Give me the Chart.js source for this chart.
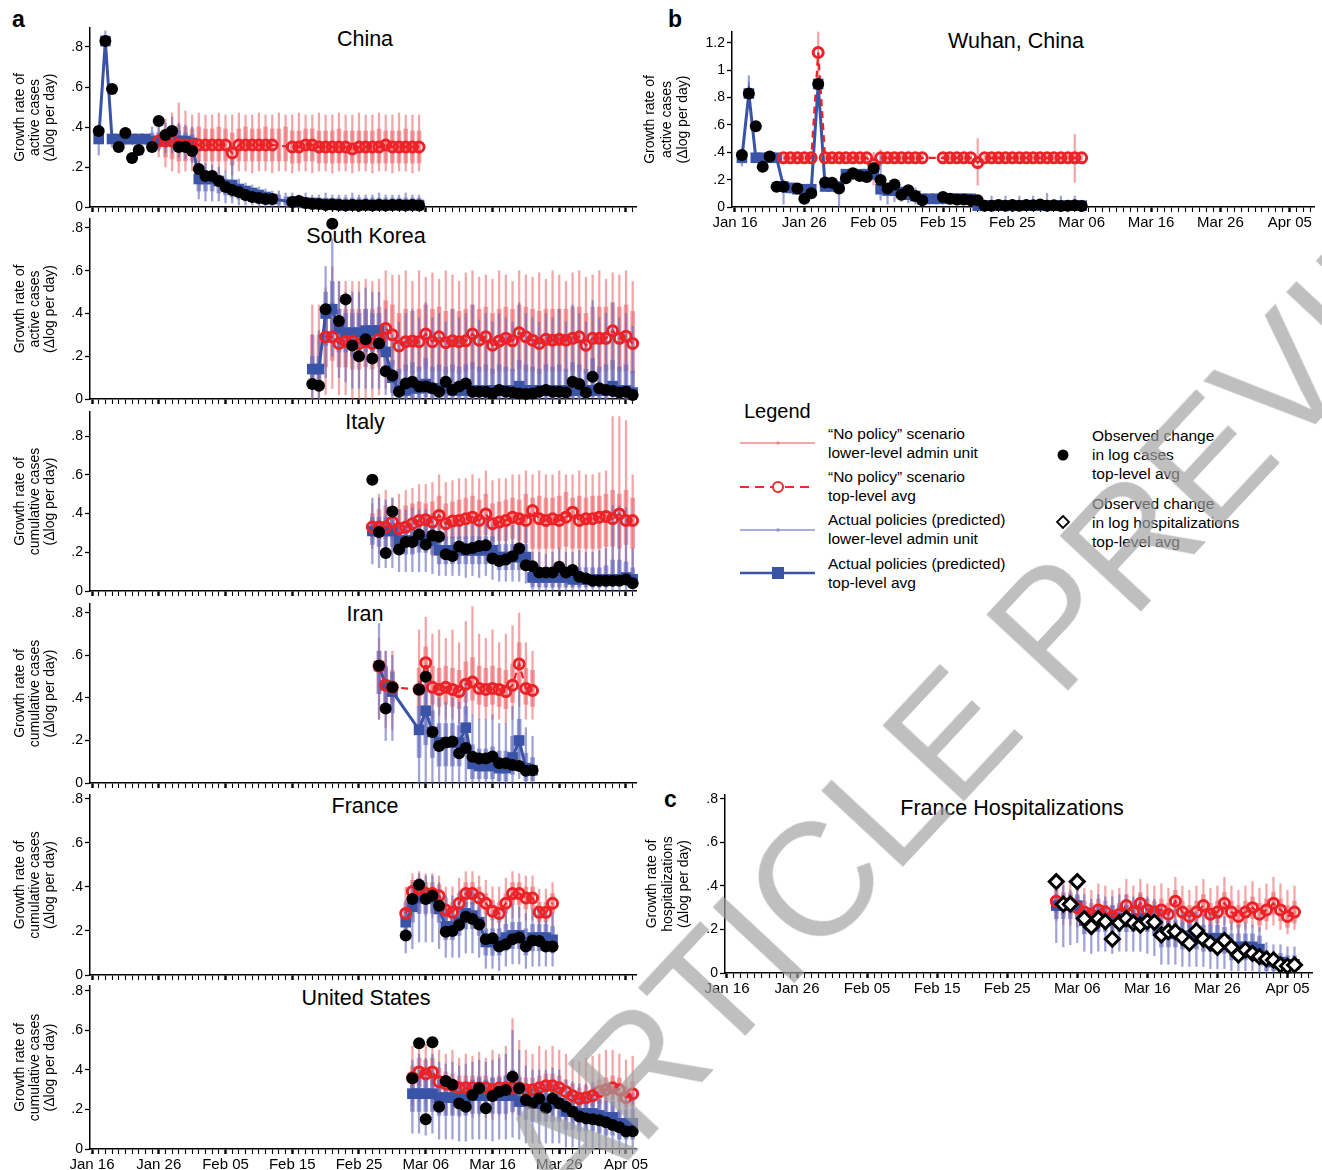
<!DOCTYPE html>
<html lang="en">
<head>
<meta charset="utf-8">
<title>Growth rates under policy scenarios</title>
<script src="https://cdn.jsdelivr.net/npm/chart.js@4.4.1/dist/chart.umd.min.js"></script>
<style>
  body { margin: 0; background: #fff; }
  #page { position: relative; width: 1322px; height: 1170px; overflow: hidden; background: #fff;
          font-family: 'Liberation Sans', Arial, Helvetica, sans-serif; color: #000; }
  .ptitle { position: absolute; font-size: 21.5px; white-space: nowrap; transform: translate(-50%, -50%); }
  .letter { position: absolute; font-size: 23px; font-weight: bold; line-height: 23px; }
  .leg { position: absolute; font-size: 15.5px; line-height: 19px; white-space: nowrap; }
  #wm { position: absolute; left: -302px; top: 1997px; height: 161px; font-size: 161px; line-height: 161px;
        white-space: nowrap; transform-origin: 0 50%; transform: rotate(-47deg);
        color: rgba(160,160,160,0.68); z-index: 5; pointer-events: none; }
</style>
</head>
<body>
<div id="page">
  <div class="letter" style="left:12px;top:8px">a</div>
  <div class="letter" style="left:668px;top:8px">b</div>
  <div class="letter" style="left:664px;top:788px">c</div>

  <div class="ptitle" style="left:365px;top:39px">China</div>
  <div class="ptitle" style="left:366px;top:236px">South Korea</div>
  <div class="ptitle" style="left:365px;top:422px">Italy</div>
  <div class="ptitle" style="left:365px;top:614px">Iran</div>
  <div class="ptitle" style="left:365px;top:806px">France</div>
  <div class="ptitle" style="left:366px;top:998px">United States</div>
  <div class="ptitle" style="left:1016px;top:41px">Wuhan, China</div>
  <div class="ptitle" style="left:1012px;top:808px">France Hospitalizations</div>

  <div class="leg" style="left:744px;top:399px;font-size:20px;line-height:24px">Legend</div>
  <div class="leg" style="left:828px;top:424px">“No policy” scenario<br>lower-level admin unit</div>
  <div class="leg" style="left:828px;top:467px">“No policy” scenario<br>top-level avg</div>
  <div class="leg" style="left:828px;top:510px">Actual policies (predicted)<br>lower-level admin unit</div>
  <div class="leg" style="left:828px;top:554px">Actual policies (predicted)<br>top-level avg</div>
  <div class="leg" style="left:1092px;top:426px">Observed change<br>in log cases<br>top-level avg</div>
  <div class="leg" style="left:1092px;top:494px">Observed change<br>in log hospitalizations<br>top-level avg</div>
  <svg style="position:absolute;left:0;top:0" width="1322" height="1170">
    <line x1="740" y1="443" x2="815" y2="443" stroke="#f08a8a" stroke-width="1.5"/>
    <circle cx="778" cy="443" r="1.8" fill="#f08a8a"/>
    <line x1="740" y1="487" x2="815" y2="487" stroke="#ee2a2a" stroke-width="2" stroke-dasharray="9,6"/>
    <circle cx="778" cy="487" r="5" fill="#fff" stroke="#ee2a2a" stroke-width="2"/>
    <line x1="740" y1="530" x2="815" y2="530" stroke="#8f93d2" stroke-width="1.5"/>
    <circle cx="778" cy="530" r="1.8" fill="#8f93d2"/>
    <line x1="740" y1="573" x2="815" y2="573" stroke="#3953a6" stroke-width="2.5"/>
    <rect x="772" y="567" width="12" height="12" fill="#3953a6"/>
    <circle cx="1063" cy="455" r="5.5" fill="#000"/>
    <path d="M1063 516 L1069 522 L1063 528 L1057 522 Z" fill="#fff" stroke="#000" stroke-width="1.8"/>
  </svg>

  <div id="wm">ACCELERATED ARTICLE PREVIEW</div>
</div>

<script>
// x axis: day 0 = Jan 16, one tick per day, label every 10 days
const tickLabels = ['Jan 16', 'Jan 26', 'Feb 05', 'Feb 15', 'Feb 25', 'Mar 06', 'Mar 16', 'Mar 26', 'Apr 05'];
const yTicksShort = [0, 0.2, 0.4, 0.6, 0.8];
const yTicksTall = [0, 0.2, 0.4, 0.6, 0.8, 1, 1.2];

// ---- China (first day = Jan 17) ----
const chinaStart = 1;
const chinaObs = [0.38,0.83,0.59,0.30,0.37,0.245,0.285,null,0.30,0.43,
  0.36,0.38,0.30,0.30,0.28,0.19,0.155,0.155,0.13,0.10,
  0.085,0.075,0.06,0.05,0.045,0.04,0.04,null,null,0.025,
  0.03,0.02,0.015,0.015,0.01,0.012,0.01,0.008,0.01,0.008,
  0.01,0.008,0.01,0.008,0.01,0.01,0.008,0.01,0.008];
const chinaNoPolicy = [null,null,null,null,null,null,null,null,null,0.33,
  0.33,0.33,0.31,0.31,0.31,0.31,0.31,0.31,0.31,0.31,
  0.27,0.31,0.31,0.31,0.31,0.31,0.31,null,null,0.30,
  0.30,0.31,0.31,0.30,0.30,0.30,0.30,0.30,0.29,0.30,
  0.30,0.30,0.30,0.31,0.30,0.30,0.30,0.30,0.30];
const chinaPolicy = [0.34,0.83,0.34,0.34,0.34,0.34,0.34,0.34,0.33,0.33,
  0.33,0.37,0.33,0.33,0.32,0.14,0.14,0.14,0.13,0.11,
  0.11,0.09,0.08,0.07,0.06,0.05,0.04,null,null,0.025,
  0.025,0.02,0.02,0.015,0.015,0.015,0.01,0.01,0.01,0.01,
  0.01,0.01,0.01,0.01,0.01,0.01,0.01,0.01,0.01];
const chinaNoPolicyRange = [null,null,null,null,null,null,null,null,null,[0.25,0.40],
  [0.20,0.44],[0.18,0.47],[0.17,0.52],[0.18,0.48],[0.18,0.46],[0.17,0.47],[0.18,0.46],[0.18,0.46],[0.17,0.47],[0.18,0.46],
  [0.16,0.46],[0.18,0.47],[0.18,0.46],[0.17,0.46],[0.18,0.47],[0.18,0.46],[0.17,0.46],[0.18,0.47],[0.18,0.46],[0.17,0.46],
  [0.18,0.47],[0.18,0.46],[0.17,0.46],[0.18,0.47],[0.18,0.46],[0.17,0.46],[0.18,0.47],[0.18,0.46],[0.17,0.46],[0.18,0.47],
  [0.18,0.46],[0.17,0.46],[0.18,0.47],[0.18,0.46],[0.17,0.46],[0.18,0.47],[0.18,0.46],[0.17,0.46],[0.18,0.46]];
const chinaNoPolicyCore = [null,null,null,null,null,null,null,null,null,[0.29,0.37],
  [0.25,0.39],[0.24,0.40],[0.23,0.41],[0.23,0.40],[0.23,0.39],[0.23,0.40],[0.23,0.39],[0.23,0.39],[0.23,0.40],[0.23,0.39],
  [0.21,0.37],[0.23,0.39],[0.23,0.40],[0.23,0.39],[0.23,0.39],[0.23,0.40],[0.23,0.39],[0.23,0.39],[0.23,0.40],[0.22,0.38],
  [0.22,0.38],[0.23,0.39],[0.23,0.39],[0.22,0.38],[0.22,0.38],[0.22,0.38],[0.22,0.39],[0.22,0.38],[0.22,0.38],[0.22,0.38],
  [0.22,0.38],[0.22,0.38],[0.22,0.39],[0.22,0.38],[0.22,0.38],[0.22,0.38],[0.22,0.39],[0.22,0.38],[0.22,0.38]];
const chinaPolicyRange = [[0.26,0.37],[0.78,0.88],[0.30,0.36],[0.31,0.36],[0.31,0.36],[0.31,0.36],[0.31,0.36],[0.31,0.36],[0.28,0.40],[0.28,0.40],
  [0.27,0.42],[0.27,0.45],[0.25,0.42],[0.24,0.41],[0.22,0.40],[0.04,0.23],[0.03,0.22],[0.03,0.21],[0.03,0.20],[0.02,0.18],
  [0.02,0.25],[0.01,0.14],[0.01,0.12],[0.01,0.11],[0.00,0.10],[0.00,0.09],[0.00,0.08],[0.00,0.08],[0.00,0.07],[0.00,0.07],
  [0.00,0.06],[0.00,0.07],[0.00,0.06],[0.00,0.06],[0.00,0.07],[0.00,0.06],[0.00,0.06],[0.00,0.06],[0.00,0.07],[0.00,0.06],
  [0.00,0.06],[0.00,0.06],[0.00,0.07],[0.00,0.06],[0.00,0.06],[0.00,0.06],[0.00,0.07],[0.00,0.06],[0.00,0.06]];
const chinaPolicyCore = [null,null,null,null,null,null,null,null,[0.30,0.37],[0.30,0.37],
  [0.30,0.38],[0.31,0.40],[0.29,0.38],[0.28,0.37],[0.27,0.36],[0.08,0.18],[0.08,0.17],[0.08,0.17],[0.07,0.16],[0.06,0.14],
  [0.05,0.13],[0.04,0.11],[0.03,0.10],[0.03,0.09],[0.02,0.08],[0.02,0.07],[0.01,0.06],[0.01,0.06],[0.01,0.05],[0.01,0.05],
  [0.01,0.045],[0.01,0.045],[0.01,0.045],[0.01,0.045],[0.01,0.045],[0.01,0.045],[0.01,0.045],[0.01,0.045],[0.01,0.045],[0.01,0.045],
  [0.01,0.045],[0.01,0.045],[0.01,0.045],[0.01,0.045],[0.01,0.045],[0.01,0.045],[0.01,0.045],[0.01,0.045],[0.01,0.045]];

// ---- South Korea (first day = Feb 18) ----
const koreaStart = 33;
const koreaObs = [0.07,0.062,0.42,0.82,0.365,0.466,0.25,0.20,0.28,0.19,
  0.26,0.13,0.11,
  0.034,0.073,0.081,0.058,0.058,0.05,0.034,0.081,0.042,0.058,0.073,0.034,0.034,0.034,0.026,0.042,0.034,0.03,
  0.026,0.023,0.026,0.034,0.042,0.034,0.034,0.03,0.081,0.07,0.03,0.104,0.05,0.042,0.038,0.03,0.034,0.019];
const koreaNoPolicy = [null,null,0.29,0.29,0.26,0.27,0.27,0.26,0.27,0.26,0.28,0.33,0.30,
  0.248,0.268,0.271,0.268,0.304,0.268,0.291,0.263,0.272,0.268,0.272,0.304,0.275,0.291,0.252,0.271,0.284,0.272,
  0.31,0.291,0.275,0.26,0.279,0.275,0.279,0.275,0.284,0.291,0.252,0.284,0.284,0.284,0.319,0.284,0.294,0.26];
const koreaPolicy = [0.14,0.14,0.40,0.42,0.33,0.31,0.31,0.31,0.32,0.32,0.32,0.22,0.10,
  0.04,0.04,0.05,0.05,0.07,0.05,0.05,0.05,0.04,0.04,0.04,0.04,0.04,0.04,0.04,0.04,0.04,0.04,
  0.06,0.04,0.04,0.04,0.04,0.04,0.04,0.04,0.04,0.04,0.04,0.04,0.04,0.04,0.06,0.04,0.04,0.03];
const koreaNoPolicyRange = [[0.00,0.44],[0.00,0.44],[0.02,0.52],[0.05,0.62],[0.02,0.55],[0.02,0.55],[0.00,0.55],[0.00,0.55],[0.00,0.56],[0.00,0.55],[0.02,0.56],[0.05,0.60],[0.02,0.58],
  [0.01,0.58],[0.02,0.60],[0.01,0.55],[0.02,0.60],[0.00,0.57],[0.02,0.59],[0.01,0.56],[0.00,0.60],[0.02,0.58],[0.01,0.55],[0.02,0.59],[0.00,0.60],
  [0.01,0.57],[0.02,0.58],[0.00,0.56],[0.02,0.60],[0.01,0.58],[0.00,0.55],[0.02,0.60],[0.01,0.58],[0.02,0.57],[0.00,0.59],[0.01,0.56],[0.02,0.60],
  [0.00,0.58],[0.02,0.55],[0.01,0.59],[0.00,0.60],[0.02,0.57],[0.01,0.58],[0.02,0.60],[0.00,0.56],[0.01,0.59],[0.02,0.58],[0.00,0.60],[0.01,0.55]];
const koreaNoPolicyCore = [[0.05,0.30],[0.05,0.30],[0.15,0.42],[0.18,0.45],[0.15,0.42],[0.15,0.42],[0.14,0.42],[0.14,0.42],[0.15,0.42],[0.14,0.42],[0.15,0.43],[0.18,0.46],[0.16,0.44],
  [0.12,0.40],[0.13,0.42],[0.12,0.41],[0.13,0.42],[0.14,0.44],[0.13,0.42],[0.13,0.43],[0.12,0.41],[0.13,0.42],[0.12,0.41],[0.13,0.42],[0.14,0.44],
  [0.13,0.42],[0.13,0.43],[0.12,0.40],[0.13,0.42],[0.13,0.43],[0.13,0.42],[0.14,0.44],[0.13,0.43],[0.13,0.42],[0.12,0.41],[0.13,0.42],[0.13,0.42],
  [0.13,0.42],[0.13,0.42],[0.13,0.43],[0.13,0.43],[0.12,0.40],[0.13,0.43],[0.13,0.43],[0.13,0.43],[0.14,0.45],[0.13,0.43],[0.13,0.44],[0.12,0.41]];
const koreaPolicyRange = [[0.00,0.30],[0.00,0.32],[0.10,0.62],[0.20,0.75],[0.10,0.55],[0.08,0.50],[0.05,0.50],[0.05,0.50],[0.05,0.52],[0.05,0.50],[0.05,0.50],[0.02,0.42],[0.00,0.30],
  [0.00,0.36],[0.00,0.40],[0.00,0.42],[0.00,0.38],[0.00,0.45],[0.00,0.38],[0.00,0.40],[0.00,0.36],[0.00,0.42],[0.00,0.38],[0.00,0.40],[0.00,0.44],
  [0.00,0.37],[0.00,0.40],[0.00,0.36],[0.00,0.40],[0.00,0.38],[0.00,0.36],[0.00,0.45],[0.00,0.40],[0.00,0.38],[0.00,0.36],[0.00,0.40],[0.00,0.38],
  [0.00,0.42],[0.00,0.36],[0.00,0.44],[0.00,0.40],[0.00,0.36],[0.00,0.46],[0.00,0.38],[0.00,0.40],[0.00,0.45],[0.00,0.38],[0.00,0.40],[0.00,0.34]];
const koreaPolicyCore = [[0.08,0.20],[0.08,0.20],[0.25,0.50],[0.28,0.55],[0.22,0.42],[0.22,0.40],[0.20,0.40],[0.20,0.40],[0.22,0.42],[0.22,0.40],[0.22,0.40],[0.12,0.30],[0.03,0.18],
  [0.00,0.14],[0.00,0.16],[0.00,0.17],[0.00,0.15],[0.01,0.19],[0.00,0.15],[0.00,0.16],[0.00,0.15],[0.00,0.16],[0.00,0.15],[0.00,0.16],[0.00,0.17],
  [0.00,0.15],[0.00,0.16],[0.00,0.14],[0.00,0.16],[0.00,0.15],[0.00,0.14],[0.01,0.18],[0.00,0.16],[0.00,0.15],[0.00,0.14],[0.00,0.16],[0.00,0.15],
  [0.00,0.16],[0.00,0.14],[0.00,0.17],[0.00,0.16],[0.00,0.14],[0.01,0.19],[0.00,0.15],[0.00,0.16],[0.01,0.18],[0.00,0.15],[0.00,0.16],[0.00,0.13]];

// ---- Italy (first day = Feb 27) ----
const italyStart = 42;
const italyObs = [0.574,0.304,0.196,0.41,0.214,0.253,0.253,0.292,0.24,0.287,
  0.28,0.19,0.18,0.23,0.215,0.222,0.232,0.236,0.168,0.155,
  0.162,0.18,0.219,0.133,0.128,0.096,0.096,0.096,0.125,0.096,
  0.108,0.073,0.065,0.053,0.053,0.053,0.053,0.053,0.06,0.04];
const italyNoPolicy = [0.33,0.33,0.33,0.356,0.322,0.33,0.347,0.364,0.368,0.356,
  0.39,0.347,0.361,0.364,0.373,0.381,0.364,0.398,0.347,0.356,
  0.364,0.381,0.373,0.364,0.415,0.373,0.364,0.373,0.364,0.381,
  0.407,0.364,0.373,0.373,0.381,0.385,0.373,0.398,0.364,0.364];
const italyPolicy = [0.31,0.31,0.31,0.31,0.26,0.26,0.26,0.26,0.26,0.26,
  0.21,0.21,0.21,0.21,0.21,0.21,0.21,0.21,0.21,0.175,
  0.175,0.175,0.175,0.175,0.07,0.07,0.07,0.07,0.07,0.07,
  0.06,0.06,0.06,0.06,0.06,0.06,0.06,0.06,0.07,0.06];
const italyNoPolicyRange = [[0.22,0.45],[0.20,0.50],[0.20,0.52],[0.20,0.48],[0.20,0.50],[0.22,0.52],[0.20,0.53],[0.22,0.55],[0.20,0.55],[0.18,0.56],
  [0.20,0.60],[0.18,0.56],[0.18,0.57],[0.18,0.58],[0.17,0.58],[0.18,0.60],[0.17,0.58],[0.18,0.62],[0.16,0.57],[0.16,0.58],
  [0.15,0.58],[0.15,0.60],[0.14,0.60],[0.10,0.62],[0.03,0.60],[0.02,0.62],[0.02,0.60],[0.02,0.60],[0.01,0.62],[0.02,0.60],
  [0.02,0.60],[0.02,0.62],[0.02,0.60],[0.02,0.60],[0.02,0.61],[0.02,0.62],[0.05,0.90],[0.05,0.90],[0.05,0.88],[0.05,0.60]];
const italyNoPolicyCore = [[0.28,0.40],[0.27,0.42],[0.27,0.44],[0.27,0.43],[0.26,0.42],[0.27,0.44],[0.28,0.45],[0.29,0.46],[0.28,0.45],[0.27,0.46],
  [0.29,0.49],[0.26,0.45],[0.27,0.46],[0.27,0.47],[0.27,0.48],[0.28,0.49],[0.27,0.47],[0.29,0.50],[0.26,0.45],[0.26,0.46],
  [0.26,0.47],[0.27,0.48],[0.26,0.47],[0.25,0.50],[0.22,0.48],[0.22,0.49],[0.22,0.48],[0.22,0.48],[0.22,0.49],[0.23,0.51],
  [0.22,0.48],[0.22,0.49],[0.22,0.48],[0.22,0.49],[0.22,0.49],[0.23,0.50],[0.23,0.52],[0.22,0.50],[0.24,0.52],[0.22,0.48]];
const italyPolicyRange = [[0.14,0.48],[0.12,0.48],[0.12,0.47],[0.12,0.48],[0.10,0.42],[0.10,0.42],[0.10,0.43],[0.10,0.42],[0.10,0.42],[0.09,0.40],
  [0.08,0.36],[0.08,0.36],[0.08,0.35],[0.08,0.36],[0.07,0.35],[0.08,0.36],[0.07,0.36],[0.08,0.37],[0.06,0.34],[0.05,0.33],
  [0.05,0.33],[0.05,0.34],[0.05,0.35],[0.04,0.33],[0.00,0.20],[0.00,0.20],[0.00,0.19],[0.00,0.20],[0.00,0.22],[0.00,0.20],
  [0.00,0.20],[0.00,0.21],[0.00,0.20],[0.00,0.20],[0.00,0.21],[0.00,0.22],[0.00,0.44],[0.00,0.44],[0.00,0.43],[0.00,0.22]];
const italyPolicyCore = [[0.24,0.38],[0.23,0.38],[0.23,0.38],[0.23,0.38],[0.19,0.33],[0.19,0.33],[0.19,0.33],[0.20,0.34],[0.20,0.34],[0.19,0.33],
  [0.14,0.28],[0.14,0.28],[0.14,0.28],[0.14,0.28],[0.14,0.28],[0.14,0.28],[0.14,0.28],[0.14,0.28],[0.14,0.28],[0.11,0.24],
  [0.11,0.24],[0.11,0.24],[0.11,0.25],[0.11,0.24],[0.02,0.12],[0.02,0.12],[0.02,0.12],[0.02,0.12],[0.02,0.13],[0.02,0.12],
  [0.02,0.12],[0.02,0.12],[0.02,0.12],[0.02,0.12],[0.02,0.12],[0.02,0.13],[0.03,0.16],[0.03,0.16],[0.03,0.15],[0.02,0.12]];

// ---- Iran (first day = Feb 28) ----
const iranStart = 43;
const iranObs = [0.552,0.35,0.45,null,null,null,0.44,0.50,0.24,0.174,
  0.19,0.195,0.14,0.165,0.124,0.115,0.115,0.125,0.093,0.093,
  0.085,0.08,0.058,0.06];
const iranNoPolicy = [0.55,0.46,0.45,null,null,null,0.44,0.566,0.45,0.44,
  0.45,0.44,0.43,0.465,0.475,0.445,0.44,0.445,0.44,0.43,
  0.46,0.56,0.445,0.435];
const iranPolicy = [0.55,0.46,0.43,null,null,null,0.25,0.34,0.24,0.19,
  0.19,0.19,0.19,0.26,0.09,0.08,0.08,0.08,0.07,0.07,
  0.12,0.20,0.07,0.06];
const iranNoPolicyRange = [[0.30,0.68],[0.26,0.62],[0.25,0.62],null,null,null,[0.28,0.72],[0.30,0.78],[0.30,0.70],[0.32,0.72],
  [0.30,0.68],[0.30,0.72],[0.28,0.66],[0.32,0.76],[0.32,0.83],[0.30,0.70],[0.30,0.68],[0.30,0.72],[0.30,0.66],[0.28,0.70],
  [0.30,0.74],[0.36,0.80],[0.30,0.66],[0.30,0.62]];
const iranNoPolicyCore = [[0.42,0.62],[0.38,0.54],[0.38,0.53],null,null,null,[0.36,0.54],[0.44,0.64],[0.37,0.55],[0.36,0.54],
  [0.37,0.55],[0.36,0.54],[0.35,0.53],[0.38,0.57],[0.39,0.59],[0.37,0.55],[0.36,0.54],[0.37,0.55],[0.36,0.54],[0.35,0.53],
  [0.38,0.56],[0.44,0.66],[0.37,0.54],[0.36,0.53]];
const iranPolicyRange = [[0.30,0.75],[0.20,0.62],[0.20,0.60],null,null,null,[0.00,0.48],[0.00,0.52],[0.00,0.42],[0.00,0.40],
  [0.00,0.38],[0.00,0.40],[0.00,0.38],[0.00,0.48],[0.00,0.32],[0.00,0.30],[0.00,0.30],[0.00,0.32],[0.00,0.28],[0.00,0.28],
  [0.00,0.36],[0.02,0.46],[0.00,0.26],[0.00,0.22]];
const iranPolicyCore = [[0.42,0.62],[0.35,0.55],[0.33,0.52],null,null,null,[0.12,0.36],[0.18,0.44],[0.12,0.34],[0.08,0.28],
  [0.08,0.28],[0.08,0.28],[0.08,0.27],[0.14,0.36],[0.02,0.18],[0.02,0.16],[0.02,0.16],[0.02,0.17],[0.01,0.15],[0.01,0.15],
  [0.04,0.22],[0.10,0.30],[0.01,0.14],[0.01,0.12]];

// ---- France (first day = Mar 03) ----
const franceStart = 47;
const franceObs = [0.18,0.345,0.41,0.345,0.36,0.315,0.197,0.20,0.227,0.265,
  0.255,0.23,0.162,0.167,0.129,0.14,0.162,0.17,0.13,0.157,
  0.154,0.13,0.13];
const franceNoPolicy = [0.28,0.38,0.39,0.37,0.37,0.36,0.295,0.285,0.326,0.37,
  0.37,0.35,0.326,0.29,0.28,0.326,0.37,0.37,0.35,0.35,
  0.285,0.285,0.326];
const francePolicy = [0.24,0.31,0.35,0.35,0.35,0.30,0.22,0.22,0.24,0.28,
  0.27,0.24,0.15,0.15,0.15,0.17,0.18,0.18,0.15,0.17,
  0.17,0.17,0.16];
const franceNoPolicyRange = [[0.20,0.40],[0.26,0.46],[0.28,0.47],[0.27,0.46],[0.26,0.46],[0.26,0.45],[0.20,0.40],[0.20,0.40],[0.22,0.44],[0.26,0.47],
  [0.26,0.47],[0.25,0.45],[0.22,0.43],[0.20,0.40],[0.20,0.40],[0.22,0.44],[0.26,0.47],[0.26,0.46],[0.25,0.45],[0.25,0.45],
  [0.20,0.39],[0.20,0.39],[0.22,0.42]];
const franceNoPolicyCore = [[0.24,0.33],[0.33,0.43],[0.34,0.44],[0.32,0.42],[0.32,0.42],[0.31,0.41],[0.25,0.35],[0.24,0.33],[0.28,0.37],[0.32,0.42],
  [0.32,0.42],[0.30,0.40],[0.28,0.37],[0.25,0.34],[0.24,0.33],[0.28,0.37],[0.32,0.42],[0.32,0.42],[0.30,0.40],[0.30,0.40],
  [0.24,0.33],[0.24,0.33],[0.28,0.37]];
const francePolicyRange = [[0.10,0.34],[0.12,0.42],[0.15,0.46],[0.15,0.45],[0.15,0.45],[0.12,0.42],[0.08,0.36],[0.08,0.36],[0.08,0.38],[0.10,0.40],
  [0.10,0.40],[0.08,0.37],[0.03,0.28],[0.03,0.28],[0.02,0.27],[0.04,0.30],[0.05,0.32],[0.05,0.31],[0.03,0.28],[0.04,0.30],
  [0.04,0.30],[0.04,0.29],[0.04,0.28]];
const francePolicyCore = [[0.18,0.30],[0.24,0.37],[0.28,0.40],[0.28,0.40],[0.28,0.40],[0.24,0.36],[0.16,0.28],[0.16,0.28],[0.18,0.30],[0.21,0.33],
  [0.21,0.33],[0.18,0.30],[0.09,0.21],[0.09,0.21],[0.09,0.21],[0.11,0.23],[0.12,0.24],[0.12,0.24],[0.09,0.21],[0.11,0.23],
  [0.11,0.23],[0.11,0.23],[0.10,0.22]];

// ---- United States (first day = Mar 04) ----
const usStart = 48;
const usObs = [0.358,0.535,0.15,0.54,0.214,0.344,0.325,0.23,0.214,0.273,
  0.307,0.206,0.268,0.29,0.298,0.366,0.307,0.248,0.231,0.256,
  0.206,0.256,0.231,0.214,0.189,0.164,0.155,0.15,0.145,0.135,
  0.122,0.11,0.088,0.09];
const usNoPolicy = [0.36,0.39,0.38,0.39,0.34,0.33,0.32,0.31,0.31,0.31,
  0.31,0.31,0.30,0.31,0.31,0.31,0.31,0.30,0.30,0.31,
  0.32,0.32,0.31,0.29,0.27,0.255,0.26,0.27,0.29,0.30,
  0.31,0.30,0.26,0.28];
const usPolicy = [0.28,0.28,0.28,0.28,0.26,0.26,0.26,0.26,0.26,0.27,
  0.27,0.27,0.27,0.27,0.27,0.27,0.24,0.24,0.23,0.23,
  0.23,0.23,0.23,0.19,0.19,0.18,0.18,0.18,0.17,0.16,
  0.16,0.13,0.13,0.13];
const usNoPolicyRange = [[0.22,0.52],[0.24,0.55],[0.22,0.53],[0.24,0.55],[0.20,0.50],[0.18,0.48],[0.18,0.50],[0.16,0.46],[0.18,0.48],[0.16,0.47],
  [0.17,0.49],[0.16,0.46],[0.15,0.50],[0.17,0.48],[0.15,0.52],[0.18,0.66],[0.16,0.55],[0.15,0.50],[0.16,0.48],[0.17,0.52],
  [0.18,0.50],[0.17,0.52],[0.17,0.50],[0.15,0.48],[0.14,0.45],[0.13,0.44],[0.14,0.46],[0.15,0.47],[0.16,0.48],[0.17,0.50],
  [0.17,0.50],[0.16,0.48],[0.14,0.45],[0.15,0.47]];
const usNoPolicyCore = [[0.30,0.42],[0.32,0.46],[0.31,0.45],[0.32,0.46],[0.28,0.41],[0.27,0.39],[0.26,0.38],[0.25,0.37],[0.25,0.37],[0.25,0.37],
  [0.25,0.37],[0.25,0.37],[0.24,0.36],[0.25,0.37],[0.25,0.37],[0.25,0.38],[0.25,0.37],[0.24,0.36],[0.24,0.36],[0.25,0.37],
  [0.26,0.38],[0.26,0.38],[0.25,0.37],[0.23,0.35],[0.21,0.33],[0.20,0.31],[0.21,0.32],[0.22,0.33],[0.23,0.35],[0.24,0.36],
  [0.25,0.37],[0.24,0.36],[0.21,0.32],[0.22,0.34]];
const usPolicyRange = [[0.08,0.45],[0.08,0.48],[0.07,0.46],[0.08,0.48],[0.05,0.44],[0.05,0.43],[0.05,0.44],[0.04,0.42],[0.04,0.43],[0.05,0.44],
  [0.05,0.45],[0.05,0.44],[0.04,0.45],[0.05,0.46],[0.05,0.48],[0.06,0.60],[0.05,0.50],[0.03,0.42],[0.03,0.40],[0.03,0.40],
  [0.03,0.40],[0.03,0.41],[0.03,0.40],[0.01,0.35],[0.01,0.34],[0.00,0.33],[0.00,0.33],[0.00,0.34],[0.00,0.32],[0.00,0.31],
  [0.00,0.30],[0.00,0.27],[0.00,0.26],[0.00,0.27]];
const usPolicyCore = [[0.19,0.36],[0.19,0.37],[0.19,0.36],[0.19,0.37],[0.17,0.35],[0.17,0.34],[0.17,0.35],[0.17,0.34],[0.17,0.34],[0.18,0.35],
  [0.18,0.36],[0.18,0.35],[0.18,0.36],[0.18,0.36],[0.18,0.37],[0.19,0.40],[0.17,0.36],[0.15,0.32],[0.14,0.31],[0.14,0.31],
  [0.14,0.31],[0.14,0.31],[0.14,0.31],[0.10,0.27],[0.10,0.27],[0.09,0.26],[0.09,0.26],[0.09,0.26],[0.08,0.25],[0.07,0.24],
  [0.07,0.24],[0.05,0.20],[0.05,0.20],[0.05,0.20]];

// ---- Wuhan (first day = Jan 17) ----
const wuhanStart = 1;
const wuhanObs = [0.38,0.83,0.59,0.295,0.37,0.148,0.148,null,0.135,0.06,
  0.10,0.90,0.18,0.177,0.135,0.21,0.246,0.226,0.22,0.283,
  0.197,0.135,0.165,0.09,0.123,0.08,0.05,null,null,0.074,
  0.06,0.054,0.054,0.05,0.05,0.01,0.01,0.015,0.01,0.015,
  0.01,0.015,0.012,0.018,0.01,0.012,0.008,0.01,0.012,0.008];
const wuhanNoPolicy = [null,null,null,null,null,null,0.36,0.36,0.36,0.36,
  0.36,1.13,0.36,0.36,0.36,0.36,0.36,0.36,0.36,0.31,
  0.36,0.36,0.36,0.36,0.36,0.36,0.36,null,null,0.36,
  0.36,0.36,0.36,0.36,0.325,0.36,0.36,0.36,0.36,0.36,
  0.36,0.36,0.36,0.36,0.36,0.36,0.36,0.36,0.36,0.36];
const wuhanPolicy = [0.36,0.83,0.36,0.36,0.36,0.36,0.15,0.14,0.13,0.13,
  0.13,0.90,0.15,0.15,0.15,0.24,0.24,0.24,0.24,0.24,
  0.13,0.12,0.12,0.11,0.09,0.08,0.06,0.06,0.06,0.06,
  0.06,0.06,0.06,0.06,0.01,0.01,0.01,0.01,0.01,0.01,
  0.01,0.01,0.01,0.01,0.01,0.01,0.01,0.01,0.01,0.01];
const wuhanNoPolicyRange = [null,null,null,null,null,null,[0.34,0.38],[0.34,0.38],[0.34,0.38],[0.34,0.38],
  [0.34,0.38],[0.90,1.28],[0.34,0.38],[0.34,0.38],[0.34,0.38],[0.34,0.38],[0.34,0.38],[0.34,0.38],[0.34,0.38],[0.16,0.40],
  [0.30,0.42],[0.34,0.38],[0.34,0.38],[0.34,0.38],[0.34,0.38],[0.34,0.38],[0.34,0.38],null,null,[0.34,0.38],
  [0.34,0.38],[0.34,0.38],[0.34,0.38],[0.34,0.38],[0.16,0.50],[0.34,0.38],[0.34,0.38],[0.34,0.38],[0.34,0.38],[0.34,0.38],
  [0.34,0.38],[0.34,0.38],[0.34,0.38],[0.34,0.38],[0.34,0.38],[0.34,0.38],[0.34,0.38],[0.34,0.38],[0.18,0.53],[0.34,0.38]];
const wuhanPolicyRange = [[0.30,0.40],[0.76,0.96],[0.33,0.39],[0.33,0.39],[0.33,0.39],[0.33,0.39],[0.02,0.20],[0.10,0.17],[0.10,0.16],[0.10,0.16],
  [0.10,0.16],[0.75,0.95],[0.12,0.18],[0.12,0.18],[0.00,0.16],[0.20,0.27],[0.20,0.27],[0.20,0.27],[0.20,0.27],[0.20,0.27],
  [0.05,0.40],[0.02,0.16],[0.04,0.15],[0.04,0.14],[0.03,0.12],[0.02,0.14],[0.02,0.09],[0.02,0.09],[0.02,0.09],[0.02,0.09],
  [0.02,0.09],[0.02,0.09],[0.02,0.09],[0.02,0.09],[0.00,0.08],[0.00,0.05],[0.00,0.08],[0.00,0.05],[0.00,0.08],[0.00,0.05],
  [0.00,0.08],[0.00,0.05],[0.00,0.08],[0.00,0.05],[0.00,0.10],[0.00,0.05],[0.00,0.08],[0.00,0.05],[0.00,0.08],[0.00,0.05]];

// ---- France hospitalizations (first day = Mar 03) ----
const hospStart = 47;
const hospObs = [0.42,0.316,0.316,0.42,0.25,0.213,0.25,0.236,0.156,0.23,
  0.25,0.23,0.22,0.236,0.233,0.175,0.19,0.19,0.164,0.137,
  0.194,0.156,0.137,0.118,0.15,0.118,0.083,0.106,0.09,0.075,
  0.065,0.06,0.037,0.032,0.037];
const hospNoPolicy = [0.33,0.32,0.32,0.30,0.28,0.27,0.29,0.28,0.26,0.27,
  0.31,0.28,0.32,0.29,0.28,0.29,0.27,0.33,0.28,0.26,
  0.28,0.31,0.27,0.28,0.32,0.28,0.26,0.28,0.30,0.27,
  0.29,0.32,0.29,0.26,0.28];
const hospPolicy = [0.31,0.31,0.31,0.31,0.24,0.24,0.25,0.25,0.25,0.25,
  0.25,0.25,0.25,0.25,0.24,0.18,0.18,0.18,0.17,0.17,
  0.17,0.16,0.16,0.16,0.15,0.12,0.12,0.12,0.12,0.11,
  0.06,0.05,0.05,0.04,0.04];
const hospNoPolicyRange = [[0.24,0.42],[0.22,0.42],[0.22,0.41],[0.21,0.40],[0.20,0.39],[0.19,0.38],[0.20,0.41],[0.20,0.40],[0.18,0.38],[0.19,0.39],
  [0.21,0.43],[0.20,0.40],[0.22,0.43],[0.20,0.41],[0.19,0.40],[0.20,0.41],[0.19,0.39],[0.22,0.44],[0.20,0.40],[0.18,0.38],
  [0.20,0.40],[0.21,0.43],[0.19,0.39],[0.20,0.40],[0.22,0.44],[0.20,0.40],[0.18,0.38],[0.20,0.40],[0.21,0.42],[0.19,0.39],
  [0.20,0.41],[0.22,0.44],[0.20,0.41],[0.18,0.38],[0.20,0.40]];
const hospNoPolicyCore = [[0.28,0.38],[0.27,0.37],[0.27,0.37],[0.25,0.35],[0.23,0.33],[0.22,0.32],[0.24,0.34],[0.23,0.33],[0.21,0.31],[0.22,0.32],
  [0.26,0.36],[0.23,0.33],[0.27,0.37],[0.24,0.34],[0.23,0.33],[0.24,0.34],[0.22,0.32],[0.28,0.38],[0.23,0.33],[0.21,0.31],
  [0.23,0.33],[0.26,0.36],[0.22,0.32],[0.23,0.33],[0.27,0.37],[0.23,0.33],[0.21,0.31],[0.23,0.33],[0.25,0.35],[0.22,0.32],
  [0.24,0.34],[0.27,0.37],[0.24,0.34],[0.21,0.31],[0.23,0.33]];
const hospPolicyRange = [[0.14,0.40],[0.12,0.40],[0.13,0.38],[0.14,0.40],[0.10,0.36],[0.09,0.34],[0.10,0.36],[0.10,0.35],[0.09,0.35],[0.10,0.36],
  [0.10,0.36],[0.10,0.35],[0.10,0.36],[0.09,0.35],[0.08,0.34],[0.04,0.30],[0.04,0.29],[0.04,0.30],[0.03,0.28],[0.03,0.28],
  [0.03,0.28],[0.03,0.27],[0.02,0.27],[0.02,0.27],[0.02,0.26],[0.01,0.23],[0.01,0.22],[0.01,0.23],[0.01,0.22],[0.00,0.21],
  [0.00,0.14],[0.00,0.13],[0.00,0.13],[0.00,0.12],[0.00,0.12]];
const hospPolicyCore = [[0.25,0.36],[0.25,0.36],[0.25,0.36],[0.25,0.36],[0.18,0.30],[0.18,0.30],[0.19,0.31],[0.19,0.31],[0.19,0.31],[0.19,0.31],
  [0.19,0.31],[0.19,0.31],[0.19,0.31],[0.19,0.31],[0.18,0.30],[0.12,0.24],[0.12,0.24],[0.12,0.24],[0.11,0.23],[0.11,0.23],
  [0.11,0.23],[0.10,0.22],[0.10,0.22],[0.10,0.22],[0.09,0.21],[0.06,0.18],[0.06,0.18],[0.06,0.18],[0.06,0.18],[0.05,0.17],
  [0.01,0.10],[0.01,0.09],[0.01,0.09],[0.00,0.08],[0.00,0.08]];

// ---- drawing ----
const FONT = "'Liberation Sans', Arial, Helvetica, sans-serif";
const RED = '#ec2227';
const BLUE = '#3953a6';
const RED_LOW = 'rgba(238,105,110,0.6)';
const BLUE_LOW = 'rgba(100,106,190,0.62)';

function toPoints(start, values) {
  return values.map((v, i) => ({ x: start + i, y: v }));
}

function toRanges(start, pairs) {
  const out = [];
  (pairs || []).forEach((p, i) => { if (p) out.push({ x: start + i, y: p }); });
  return out;
}

function yLabel(v) {
  if (v === 0) return '0';
  return String(Math.round(v * 10) / 10).replace(/^0/, '');
}

function buildPanel(p) {
  const page = document.getElementById('page');
  const canvas = document.createElement('canvas');
  canvas.width = p.w;
  canvas.height = p.h;
  canvas.style.cssText = `position:absolute;left:${p.left}px;top:${p.top}px;width:${p.w}px;height:${p.h}px;`;
  page.appendChild(canvas);

  const lastTick = Math.floor(p.xMax);
  const dayTicks = Array.from({ length: lastTick + 1 }, (_, i) => i);
  const noPad = (ax) => { ax.paddingTop = 0; ax.paddingBottom = 0; ax.paddingLeft = 0; ax.paddingRight = 0; };

  new Chart(canvas, {
    type: 'bar',
    data: {
      datasets: [
        { type: 'line', data: toPoints(p.start, p.obs), showLine: false,
          pointStyle: p.diamonds ? 'rectRot' : 'circle', pointRadius: p.diamonds ? 7 : 6,
          pointBackgroundColor: p.diamonds ? '#fff' : '#000', pointBorderColor: '#000',
          pointBorderWidth: p.diamonds ? 3 : 0, order: 0, clip: false },
        { type: 'line', data: toPoints(p.start, p.noPolicy), borderColor: RED, borderWidth: 2.2,
          borderDash: [7, 5], pointStyle: 'circle', pointRadius: 5, pointBackgroundColor: 'rgba(255,255,255,0)',
          pointBorderColor: RED, pointBorderWidth: 3, spanGaps: true, tension: 0, order: 1, clip: false },
        { type: 'line', data: toPoints(p.start, p.policy), borderColor: BLUE, borderWidth: 3,
          pointStyle: 'rect', pointRadius: 7.5, pointBackgroundColor: BLUE, pointBorderWidth: 0,
          spanGaps: true, tension: 0, order: 2, clip: false },
        { type: 'bar', data: toRanges(p.start, p.policyCore), backgroundColor: BLUE_LOW,
          barThickness: 4, grouped: false, borderWidth: 0, order: 3, clip: false },
        { type: 'bar', data: toRanges(p.start, p.policyRange), backgroundColor: BLUE_LOW,
          barThickness: 1.6, grouped: false, borderWidth: 0, order: 4, clip: false },
        { type: 'bar', data: toRanges(p.start, p.noPolicyCore), backgroundColor: RED_LOW,
          barThickness: 4, grouped: false, borderWidth: 0, order: 5, clip: false },
        { type: 'bar', data: toRanges(p.start, p.noPolicyRange), backgroundColor: RED_LOW,
          barThickness: 1.6, grouped: false, borderWidth: 0, order: 6, clip: false }
      ]
    },
    options: {
      responsive: false,
      maintainAspectRatio: false,
      animation: false,
      events: [],
      layout: { padding: { top: p.padTop, right: p.padRight, bottom: 0, left: 0 } },
      plugins: { legend: { display: false }, tooltip: { enabled: false }, title: { display: false } },
      scales: {
        x: {
          type: 'linear', min: p.xMin, max: p.xMax, offset: false,
          afterBuildTicks: (ax) => { ax.ticks = dayTicks.map(v => ({ value: v })); },
          afterFit: (ax) => { ax.height = p.xHeight; noPad(ax); },
          grid: { offset: false, drawOnChartArea: false, drawTicks: true, tickLength: 5, tickColor: '#000',
                  tickWidth: (c) => (c.tick && c.tick.value % 10 === 0) ? 2.4 : 1.1 },
          border: { display: true, color: '#000', width: 1.5 },
          ticks: { autoSkip: false, maxRotation: 0, minRotation: 0, padding: 2, color: '#000',
                   font: { family: FONT, size: 15 },
                   callback: (v) => (p.showLabels && v % 10 === 0) ? tickLabels[v / 10] : '' }
        },
        y: {
          min: 0, max: p.yMax,
          afterBuildTicks: (ax) => { ax.ticks = p.yTicks.map(v => ({ value: v })); },
          afterFit: (ax) => { ax.width = p.yWidth; noPad(ax); },
          grid: { drawOnChartArea: false, drawTicks: true, tickLength: 5, tickColor: '#000', tickWidth: 1.3 },
          border: { display: true, color: '#000', width: 1.5 },
          ticks: { padding: 2, color: '#000', font: { family: FONT, size: 14 }, callback: (v) => yLabel(v) },
          title: { display: true, text: p.yTitle, color: '#000',
                   font: { family: FONT, size: 14, lineHeight: p.titleLH + 'px' },
                   padding: { top: p.titlePad, bottom: 0 } }
        }
      }
    }
  });
}

const activeTitle = ['Growth rate of', 'active cases', '(Δlog per day)'];
const cumulativeTitle = ['Growth rate of', 'cumulative cases', '(Δlog per day)'];
const hospTitle = ['Growth rate of', 'hospitalizations', '(Δlog per day)'];
const leftCol = { left: 0, w: 660, padRight: 24, yWidth: 90, xMin: -0.3, xMax: 81.5, yTicks: yTicksShort,
                  titlePad: 12.5, titleLH: 15, showLabels: false, xHeight: 12 };

const panels = [
  Object.assign({}, leftCol, { top: 0, h: 219, padTop: 28, yMax: 0.895, yTitle: activeTitle,
    start: chinaStart, obs: chinaObs, noPolicy: chinaNoPolicy, policy: chinaPolicy,
    noPolicyRange: chinaNoPolicyRange, noPolicyCore: chinaNoPolicyCore, policyRange: chinaPolicyRange, policyCore: chinaPolicyCore }),
  Object.assign({}, leftCol, { top: 208, h: 203, padTop: 11, yMax: 0.842, yTitle: activeTitle,
    start: koreaStart, obs: koreaObs, noPolicy: koreaNoPolicy, policy: koreaPolicy,
    noPolicyRange: koreaNoPolicyRange, noPolicyCore: koreaNoPolicyCore, policyRange: koreaPolicyRange, policyCore: koreaPolicyCore }),
  Object.assign({}, leftCol, { top: 400, h: 203, padTop: 12, yMax: 0.924, yTitle: cumulativeTitle,
    start: italyStart, obs: italyObs, noPolicy: italyNoPolicy, policy: italyPolicy,
    noPolicyRange: italyNoPolicyRange, noPolicyCore: italyNoPolicyCore, policyRange: italyPolicyRange, policyCore: italyPolicyCore }),
  Object.assign({}, leftCol, { top: 592, h: 203, padTop: 12, yMax: 0.842, yTitle: cumulativeTitle,
    start: iranStart, obs: iranObs, noPolicy: iranNoPolicy, policy: iranPolicy,
    noPolicyRange: iranNoPolicyRange, noPolicyCore: iranNoPolicyCore, policyRange: iranPolicyRange, policyCore: iranPolicyCore }),
  Object.assign({}, leftCol, { top: 783, h: 204, padTop: 12, yMax: 0.818, yTitle: cumulativeTitle,
    start: franceStart, obs: franceObs, noPolicy: franceNoPolicy, policy: francePolicy,
    noPolicyRange: franceNoPolicyRange, noPolicyCore: franceNoPolicyCore, policyRange: francePolicyRange, policyCore: francePolicyCore }),
  Object.assign({}, leftCol, { top: 974, h: 201, padTop: 12, yMax: 0.825, yTitle: cumulativeTitle,
    showLabels: true, xHeight: 26,
    start: usStart, obs: usObs, noPolicy: usNoPolicy, policy: usPolicy,
    noPolicyRange: usNoPolicyRange, noPolicyCore: usNoPolicyCore, policyRange: usPolicyRange, policyCore: usPolicyCore }),
  { left: 637, top: 0, w: 685, h: 233, padTop: 32, padRight: 0, yWidth: 95, xMin: -0.43, xMax: 83.5,
    yMax: 1.28, yTicks: yTicksTall, yTitle: activeTitle, titlePad: 5, titleLH: 16.5, showLabels: true, xHeight: 26,
    start: wuhanStart, obs: wuhanObs, noPolicy: wuhanNoPolicy, policy: wuhanPolicy,
    noPolicyRange: wuhanNoPolicyRange, noPolicyCore: null, policyRange: wuhanPolicyRange, policyCore: null },
  { left: 630, top: 780, w: 692, h: 219, padTop: 15, padRight: 0, yWidth: 95, xMin: -0.28, xMax: 83.5,
    yMax: 0.818, yTicks: yTicksShort, yTitle: hospTitle, titlePad: 14, titleLH: 16, showLabels: true, xHeight: 26,
    diamonds: true,
    start: hospStart, obs: hospObs, noPolicy: hospNoPolicy, policy: hospPolicy,
    noPolicyRange: hospNoPolicyRange, noPolicyCore: hospNoPolicyCore, policyRange: hospPolicyRange, policyCore: hospPolicyCore }
];

panels.forEach(buildPanel);
</script>
</body>
</html>
